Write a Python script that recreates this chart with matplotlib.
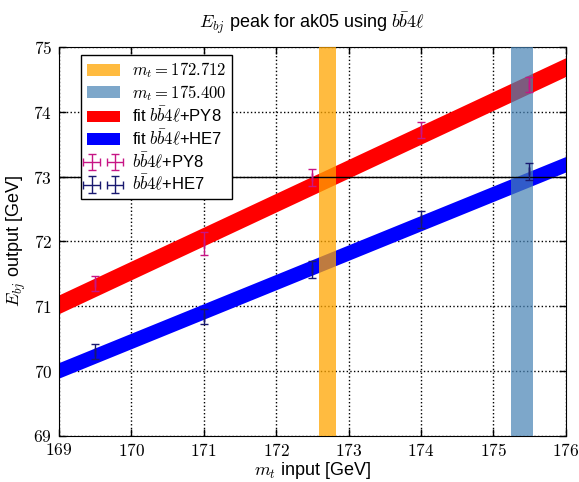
import numpy as np
import matplotlib
matplotlib.use('Agg')
import matplotlib.pyplot as plt
from matplotlib.ticker import FuncFormatter

plt.rcParams['font.family'] = ['Liberation Sans', 'DejaVu Sans']
plt.rcParams['mathtext.fontset'] = 'cm'
plt.rcParams['xtick.direction'] = 'in'
plt.rcParams['ytick.direction'] = 'in'

# data
mt_points = [169.5, 171.0, 172.5, 174.0, 175.5]
py8_ebj = [71.35, 71.97, 72.99, 73.72, 74.42]
py8_err = [0.12, 0.18, 0.13, 0.13, 0.12]
he7_ebj = [70.30, 70.84, 71.57, 72.34, 73.08]
he7_err = [0.12, 0.12, 0.13, 0.13, 0.13]

fit_x = [169.0, 176.0]
py8_fit = [71.03, 74.69]
py8_fit_width = 0.145
he7_fit = [70.01, 73.19]
he7_fit_width = 0.12

mt_py8 = 172.712
mt_py8_width = 0.12
mt_he7 = 175.400
mt_he7_width = 0.15

fig = plt.figure(figsize=(5.79, 4.82), dpi=100)
ax = fig.add_axes([0.102, 0.096, 0.875, 0.8065])

fx = np.array(fit_x)
ax.fill_between(fx, np.array(py8_fit) - py8_fit_width, np.array(py8_fit) + py8_fit_width,
                color='red', lw=0, label=r'fit $b\bar{b}4\ell$+PY8', zorder=2)
ax.fill_between(fx, np.array(he7_fit) - he7_fit_width, np.array(he7_fit) + he7_fit_width,
                color='blue', lw=0, label=r'fit $b\bar{b}4\ell$+HE7', zorder=2)

ax.axvspan(mt_py8 - mt_py8_width, mt_py8 + mt_py8_width, color='orange', alpha=0.75, lw=0,
           label=r'$m_t = %.3f$' % mt_py8, zorder=3)
ax.axvspan(mt_he7 - mt_he7_width, mt_he7 + mt_he7_width, color='steelblue', alpha=0.7, lw=0,
           label=r'$m_t = %.3f$' % mt_he7, zorder=3)

ax.errorbar(mt_points, py8_ebj, yerr=py8_err, xerr=0, fmt='none', ecolor='mediumvioletred',
            capsize=3, elinewidth=1, label=r'$b\bar{b}4\ell$+PY8', zorder=4)
ax.errorbar(mt_points, he7_ebj, yerr=he7_err, xerr=0, fmt='none', ecolor='midnightblue',
            capsize=3, elinewidth=1, label=r'$b\bar{b}4\ell$+HE7', zorder=4)

ax.axhline(73, color='black', lw=1, zorder=3)

ax.set_xlim(169, 176)
ax.set_ylim(69, 75)
ax.set_xticks(np.arange(169, 177, 1))
ax.set_yticks(np.arange(69, 76, 1))
ax.xaxis.set_major_formatter(FuncFormatter(lambda v, p: r'$%d$' % v))
ax.yaxis.set_major_formatter(FuncFormatter(lambda v, p: r'$%d$' % v))
ax.tick_params(labelsize=12.5, top=True, right=True, length=5, width=1)
ax.tick_params(axis='x', pad=4.5)
ax.tick_params(axis='y', pad=5)
ax.grid(True, color='black', linestyle=':', linewidth=1)
ax.set_axisbelow(True)

ax.set_xlabel(r'$m_t$ input [GeV]', fontsize=13, labelpad=0.5)
ax.set_ylabel(r'$E_{bj}$ output [GeV]', fontsize=13, labelpad=4)
ax.set_title(r'$E_{bj}$ peak for ak05 using $b\bar{b}4\ell$', fontsize=13, pad=13)

handles, labels = ax.get_legend_handles_labels()
order = [labels.index(l) for l in [r'$m_t = %.3f$' % mt_py8, r'$m_t = %.3f$' % mt_he7,
                                   r'fit $b\bar{b}4\ell$+PY8', r'fit $b\bar{b}4\ell$+HE7',
                                   r'$b\bar{b}4\ell$+PY8', r'$b\bar{b}4\ell$+HE7']]
leg = ax.legend([handles[i] for i in order], [labels[i] for i in order], loc='upper left',
                bbox_to_anchor=(0.043, 0.98), borderaxespad=0, fontsize=12, numpoints=2,
                fancybox=False, framealpha=1, edgecolor='black', handlelength=2.0,
                handletextpad=0.7, labelspacing=0.15, borderpad=0.35)
leg.get_frame().set_linewidth(1)

fig.savefig('out.png', dpi=100)
